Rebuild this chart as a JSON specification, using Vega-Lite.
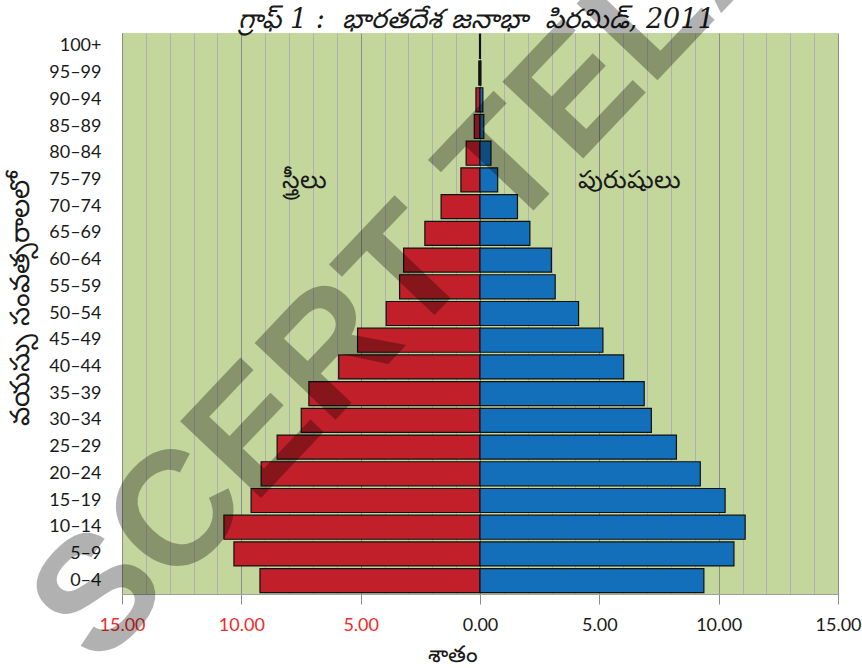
{
  "$schema": "https://vega.github.io/schema/vega-lite/v6.json",
  "width": 716,
  "height": 561,
  "autosize": "none",
  "padding": {"left": 122, "top": 33, "right": 24, "bottom": 74},
  "background": "white",
  "config": {
    "view": {"fill": "#c3d69b", "stroke": null},
    "font": "Lato"
  },
  "layer": [
    {
      "layer": [
        {
          "data": {
            "values": [
              {"age": "100+", "sex": "F", "pct": 0.02}, {"age": "100+", "sex": "M", "pct": 0.02},
              {"age": "95–99", "sex": "F", "pct": 0.05}, {"age": "95–99", "sex": "M", "pct": 0.04},
              {"age": "90–94", "sex": "F", "pct": 0.17}, {"age": "90–94", "sex": "M", "pct": 0.12},
              {"age": "85–89", "sex": "F", "pct": 0.24}, {"age": "85–89", "sex": "M", "pct": 0.16},
              {"age": "80–84", "sex": "F", "pct": 0.58}, {"age": "80–84", "sex": "M", "pct": 0.46},
              {"age": "75–79", "sex": "F", "pct": 0.80}, {"age": "75–79", "sex": "M", "pct": 0.74},
              {"age": "70–74", "sex": "F", "pct": 1.63}, {"age": "70–74", "sex": "M", "pct": 1.57},
              {"age": "65–69", "sex": "F", "pct": 2.31}, {"age": "65–69", "sex": "M", "pct": 2.09},
              {"age": "60–64", "sex": "F", "pct": 3.20}, {"age": "60–64", "sex": "M", "pct": 2.99},
              {"age": "55–59", "sex": "F", "pct": 3.37}, {"age": "55–59", "sex": "M", "pct": 3.15},
              {"age": "50–54", "sex": "F", "pct": 3.93}, {"age": "50–54", "sex": "M", "pct": 4.13},
              {"age": "45–49", "sex": "F", "pct": 5.13}, {"age": "45–49", "sex": "M", "pct": 5.15},
              {"age": "40–44", "sex": "F", "pct": 5.92}, {"age": "40–44", "sex": "M", "pct": 6.02},
              {"age": "35–39", "sex": "F", "pct": 7.17}, {"age": "35–39", "sex": "M", "pct": 6.88},
              {"age": "30–34", "sex": "F", "pct": 7.49}, {"age": "30–34", "sex": "M", "pct": 7.18},
              {"age": "25–29", "sex": "F", "pct": 8.50}, {"age": "25–29", "sex": "M", "pct": 8.23},
              {"age": "20–24", "sex": "F", "pct": 9.17}, {"age": "20–24", "sex": "M", "pct": 9.23},
              {"age": "15–19", "sex": "F", "pct": 9.59}, {"age": "15–19", "sex": "M", "pct": 10.27},
              {"age": "10–14", "sex": "F", "pct": 10.73}, {"age": "10–14", "sex": "M", "pct": 11.11},
              {"age": "5–9", "sex": "F", "pct": 10.31}, {"age": "5–9", "sex": "M", "pct": 10.64},
              {"age": "0–4", "sex": "F", "pct": 9.22}, {"age": "0–4", "sex": "M", "pct": 9.38}
            ]
          },
          "transform": [
            {"calculate": "datum.sex == 'F' ? -datum.pct : datum.pct", "as": "signed"}
          ],
          "mark": {"type": "bar", "stroke": "#111111", "strokeWidth": 1.2},
          "encoding": {
            "x": {
              "field": "signed",
              "type": "quantitative",
              "stack": null,
              "scale": {"domain": [-15, 15], "nice": false, "zero": false},
              "axis": {
                "orient": "bottom",
                "values": [-15, -14, -13, -12, -11, -10, -9, -8, -7, -6, -5, -4, -3, -2, -1, 0, 1, 2, 3, 4, 5, 6, 7, 8, 9, 10, 11, 12, 13, 14, 15],
                "tickCount": 40,
                "grid": true,
                "gridColor": {"condition": {"test": "datum.value % 5 === 0", "value": "#8c8c8c"}, "value": "#b0b0b0"},
                "gridWidth": 1,
                "domain": true,
                "domainColor": "#a0a0a0",
                "ticks": true,
                "tickSize": 10,
                "tickColor": {"condition": {"test": "datum.value % 5 === 0", "value": "#8c8c8c"}, "value": "transparent"},
                "labelExpr": "datum.value % 5 === 0 ? format(abs(datum.value), '.2f') : ''",
                "labelColor": {"condition": {"test": "datum.value < 0", "value": "#f22a2a"}, "value": "#1a1a1a"},
                "labelFont": "Lato",
                "labelFontSize": 18,
                "labelPadding": 12,
                "labelOverlap": false,
                "labelFlush": false,
                "title": "శాతం",
                "titleFont": "Noto Sans",
                "titleFontSize": 23,
                "titleFontWeight": "normal",
                "titleColor": "#1a1a1a",
                "titleX": 330,
                "titleY": 60,
                "titleAlign": "center",
                "titleBaseline": "middle"
              }
            },
            "y": {
              "field": "age",
              "type": "nominal",
              "scale": {"domain": ["100+", "95–99", "90–94", "85–89", "80–84", "75–79", "70–74", "65–69", "60–64", "55–59", "50–54", "45–49", "40–44", "35–39", "30–34", "25–29", "20–24", "15–19", "10–14", "5–9", "0–4"], "paddingInner": 0.1, "paddingOuter": 0.05},
              "axis": {
                "ticks": false,
                "domain": true,
                "domainColor": "#8c8c8c",
                "labelFont": "Lato",
                "labelFontSize": 18,
                "labelColor": "#1a1a1a",
                "labelPadding": 21,
                "title": "వయస్సు సంవత్సరాలలో",
                "titleFont": "Noto Sans",
                "titleFontSize": 27,
                "titleFontWeight": "normal",
                "titleColor": "#1a1a1a",
                "titleX": -102,
                "titleY": 265,
                "titleAlign": "center",
                "titleBaseline": "middle",
                "titleAngle": -90
              }
            },
            "color": {
              "field": "sex",
              "type": "nominal",
              "scale": {"domain": ["F", "M"], "range": ["#c11f29", "#136fb9"]},
              "legend": null
            }
          }
        },
        {
          "mark": {"type": "rule", "color": "#a6a6a6", "strokeWidth": 1},
          "encoding": {
            "x": {
              "datum": 0,
              "axis": {
                "orient": "top",
                "labels": false,
                "ticks": false,
                "domain": false,
                "grid": false,
                "title": "గ్రాఫ్ 1 :\u00a0\u00a0భారతదేశ జనాభా\u00a0\u00a0పిరమిడ్, 2011",
                "titleFont": "DejaVu Serif",
                "titleFontStyle": "italic",
                "titleFontWeight": "normal",
                "titleFontSize": 27,
                "titleColor": "#1a1a1a",
                "titleX": 354,
                "titleY": -6,
                "titleAlign": "center",
                "titleBaseline": "alphabetic"
              }
            }
          }
        },
        {
          "data": {
            "values": [
              {"label": "స్త్రీలు", "x": -7.35, "age": "75–79"},
              {"label": "పురుషులు", "x": 6.25, "age": "75–79"}
            ]
          },
          "mark": {"type": "text", "font": "Noto Sans", "fontSize": 25, "color": "#1a1a1a", "align": "center", "baseline": "middle"},
          "encoding": {
            "x": {"field": "x", "type": "quantitative", "axis": null},
            "y": {"field": "age", "type": "nominal", "scale": {"domain": ["100+", "95–99", "90–94", "85–89", "80–84", "75–79", "70–74", "65–69", "60–64", "55–59", "50–54", "45–49", "40–44", "35–39", "30–34", "25–29", "20–24", "15–19", "10–14", "5–9", "0–4"]}},
            "text": {"field": "label"}
          }
        }
      ],
      "resolve": {"axis": {"x": "independent"}}
    },
    {
      "data": {"values": [{"wm": "SCERT TELANGANA", "wx": -15.98, "wy": -13.37}]},
      "mark": {"type": "text", "font": "Liberation Sans", "fontWeight": "bold", "fontSize": 162, "angle": -46.5, "align": "left", "baseline": "alphabetic", "color": "#000000", "opacity": 0.3},
      "encoding": {
        "x": {"field": "wx", "type": "quantitative", "axis": null},
        "y": {"field": "wy", "type": "quantitative", "scale": {"domain": [0, 100], "nice": false, "zero": false}, "axis": null},
        "text": {"field": "wm"}
      }
    }
  ],
  "resolve": {"scale": {"y": "independent"}, "axis": {"x": "independent"}}
}
